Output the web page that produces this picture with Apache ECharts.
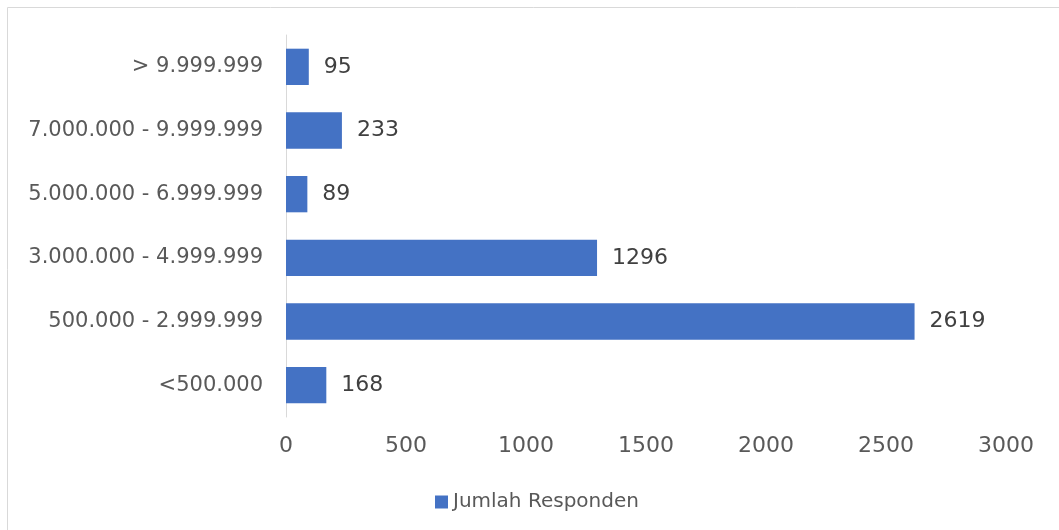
<!DOCTYPE html>
<html>
<head>
<meta charset="utf-8">
<script src="https://cdn.jsdelivr.net/npm/echarts@6/dist/echarts.min.js"></script>
<style>
  html, body { margin: 0; padding: 0; background: #fff; }
  #chart { width: 1059px; height: 530px; }
</style>
</head>
<body>
<div id="chart"></div>
<script>
// Income brackets (bottom to top) and respondent counts
const categories = ['<500.000', '500.000 - 2.999.999', '3.000.000 - 4.999.999', '5.000.000 - 6.999.999', '7.000.000 - 9.999.999', '> 9.999.999'];
const respondents = [168, 2619, 1296, 89, 233, 95];
const seriesName = 'Jumlah Responden';
const xTicks = [0, 500, 1000, 1500, 2000, 2500, 3000];

const font = 'DejaVu Sans, Verdana, sans-serif';
const chart = echarts.init(document.getElementById('chart'));
chart.setOption({
  animation: false,
  textStyle: { fontFamily: font },
  graphic: [{
    type: 'rect',
    shape: { x: 7.5, y: 7.5, width: 1060, height: 530 },
    style: { fill: 'none', stroke: '#d9d9d9', lineWidth: 1 },
    silent: true
  }],
  legend: {
    data: [seriesName],
    top: 487,
    left: 430,
    itemWidth: 13,
    itemHeight: 13,
    itemGap: 6,
    icon: 'rect',
    textStyle: { fontSize: 20, color: '#595959', fontFamily: font }
  },
  grid: { left: 286, right: 53, top: 35, bottom: 113, containLabel: false },
  xAxis: {
    type: 'value',
    min: xTicks[0],
    max: xTicks[xTicks.length - 1],
    interval: 500,
    axisLine: { show: false },
    axisTick: { show: false },
    splitLine: { show: false },
    axisLabel: {
      fontSize: 22, color: '#595959', margin: 18, fontFamily: font,
      formatter: v => String(v)
    }
  },
  yAxis: {
    type: 'category',
    data: categories,
    axisLine: { show: true, lineStyle: { color: '#d9d9d9', width: 1 } },
    axisTick: { show: false },
    axisLabel: { fontSize: 21, color: '#595959', margin: 23, fontFamily: font }
  },
  series: [{
    name: seriesName,
    type: 'bar',
    data: respondents,
    barCategoryGap: '43%',
    itemStyle: { color: '#4472c4' },
    label: {
      show: true,
      position: 'right',
      distance: 15,
      fontSize: 22,
      color: '#404040',
      fontFamily: font,
      formatter: p => String(p.value)
    }
  }]
});
</script>
</body>
</html>
